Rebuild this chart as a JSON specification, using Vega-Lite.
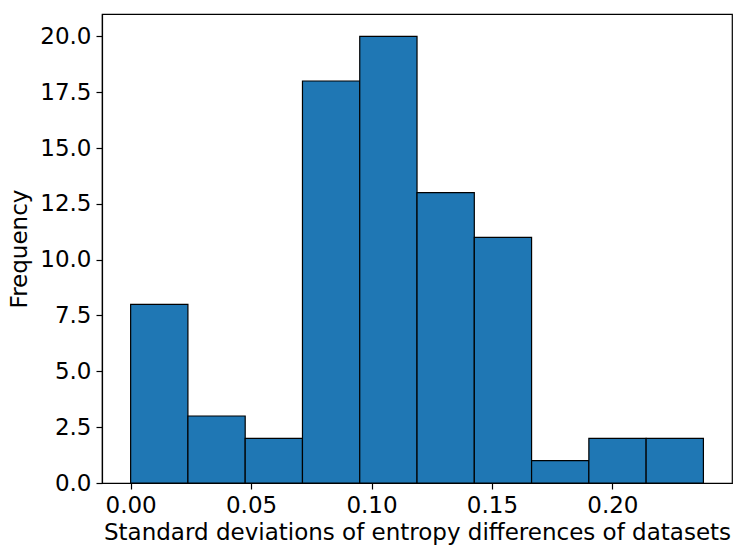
{
  "$schema": "https://vega.github.io/schema/vega-lite/v6.json",
  "width": 630,
  "height": 469,
  "autosize": {"type": "none"},
  "padding": {"left": 102, "top": 14, "right": 2, "bottom": 62},
  "background": "#ffffff",
  "data": {
    "values": [
      {"bin_start": 0.0, "bin_end": 0.02378, "count": 8},
      {"bin_start": 0.02378, "bin_end": 0.04756, "count": 3},
      {"bin_start": 0.04756, "bin_end": 0.07134, "count": 2},
      {"bin_start": 0.07134, "bin_end": 0.09512, "count": 18},
      {"bin_start": 0.09512, "bin_end": 0.1189, "count": 20},
      {"bin_start": 0.1189, "bin_end": 0.14268, "count": 13},
      {"bin_start": 0.14268, "bin_end": 0.16646, "count": 11},
      {"bin_start": 0.16646, "bin_end": 0.19024, "count": 1},
      {"bin_start": 0.19024, "bin_end": 0.21402, "count": 2},
      {"bin_start": 0.21402, "bin_end": 0.2378, "count": 2}
    ]
  },
  "mark": {"type": "bar", "fill": "#1f77b4", "stroke": "#000000", "strokeWidth": 1.2, "opacity": 1},
  "encoding": {
    "x": {
      "field": "bin_start",
      "type": "quantitative",
      "scale": {"domain": [-0.01189, 0.24967], "nice": false, "zero": false},
      "axis": {
        "values": [0, 0.05, 0.1, 0.15, 0.2],
        "format": ".2f",
        "title": "Standard deviations of entropy differences of datasets",
        "titlePadding": 4
      }
    },
    "x2": {"field": "bin_end"},
    "y": {
      "field": "count",
      "type": "quantitative",
      "scale": {"domain": [0, 21], "nice": false, "zero": true},
      "axis": {
        "values": [0, 2.5, 5, 7.5, 10, 12.5, 15, 17.5, 20],
        "format": ".1f",
        "title": "Frequency",
        "titlePadding": 8
      }
    },
    "y2": {"datum": 0}
  },
  "config": {
    "view": {"stroke": "#000000", "strokeWidth": 1.2},
    "axis": {
      "grid": false,
      "domainColor": "#000000",
      "domainWidth": 1.2,
      "tickColor": "#000000",
      "tickWidth": 1.2,
      "tickSize": 6,
      "labelPadding": 5,
      "labelFont": "DejaVu Sans",
      "labelFontSize": 23,
      "labelColor": "#000000",
      "titleFont": "DejaVu Sans",
      "titleFontSize": 23,
      "titleFontWeight": "normal",
      "titleColor": "#000000"
    }
  }
}
